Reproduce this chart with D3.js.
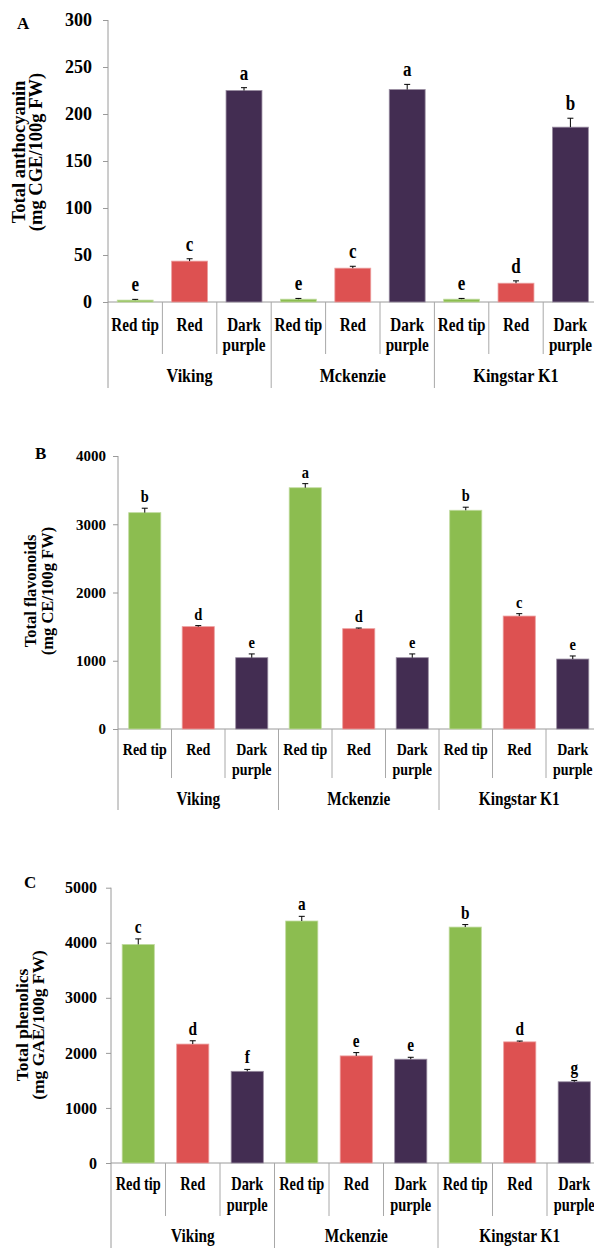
<!DOCTYPE html>
<html>
<head>
<meta charset="utf-8">
<script src="https://cdn.jsdelivr.net/npm/d3@7/dist/d3.min.js"></script>
<style>
html,body{margin:0;padding:0;background:#fff;}
svg text{font-family:"Liberation Serif","Times New Roman",serif;font-weight:bold;fill:#000;}
</style>
</head>
<body>
<svg id="chart" width="594" height="1248"></svg>
<script>
// ---- data ----
const cultivars = ["Viking", "Mckenzie", "Kingstar K1"];
const stages = ["Red tip", "Red", "Dark purple"];
const stageColors = ["#8cbd50", "#dd5151", "#432d52"];

const anthocyanin = [2, 43.5, 225, 3, 36, 226, 3, 20, 186];
const anthocyaninErr = [0.8, 2.5, 3, 0.8, 2, 5.5, 0.8, 2.5, 9.5];
const anthocyaninLetters = ["e", "c", "a", "e", "c", "a", "e", "d", "b"];
const anthocyaninTicks = [0, 50, 100, 150, 200, 250, 300];

const flavonoids = [3170, 1500, 1045, 3535, 1470, 1045, 3205, 1655, 1025];
const flavonoidsErr = [65, 15, 55, 60, 10, 55, 45, 35, 45];
const flavonoidsLetters = ["b", "d", "e", "a", "d", "e", "b", "c", "e"];
const flavonoidsTicks = [0, 1000, 2000, 3000, 4000];

const phenolics = [3970, 2160, 1665, 4395, 1945, 1885, 4285, 2200, 1475];
const phenolicsErr = [100, 60, 35, 85, 60, 35, 45, 15, 25];
const phenolicsLetters = ["c", "d", "f", "a", "e", "e", "b", "d", "g"];
const phenolicsTicks = [0, 1000, 2000, 3000, 4000, 5000];

const FONT = '"Liberation Serif","Times New Roman",serif';
const svg = d3.select("#chart");

function lighten(c, k) { return d3.interpolateRgb(c, "#ffffff")(k); }

function condensedText(g, x, y, str, size, sx, anchor) {
  return g.append("text")
    .attr("transform", `translate(${x},${y}) scale(${sx},1)`)
    .attr("text-anchor", anchor || "middle")
    .attr("font-family", FONT).attr("font-weight", "bold")
    .style("font-size", size + "px")
    .text(str);
}

function panel(cfg) {
  const g = svg.append("g");
  const keys = [];
  cultivars.forEach(c => stages.forEach(s => keys.push(c + "|" + s)));
  const rows = cfg.values.map((v, i) => ({
    key: keys[i], cultivar: cultivars[Math.floor(i / 3)], stage: stages[i % 3],
    si: i % 3, v: v, e: cfg.err[i], letter: cfg.letters[i]
  }));

  const x = d3.scaleBand().domain(keys).range([cfg.x0, cfg.x1]).paddingInner(0).paddingOuter(0);
  const bw = x.bandwidth() * cfg.barFrac;
  const y = d3.scaleLinear().domain([0, d3.max(cfg.ticks)]).range([cfg.y0, cfg.yTop]);

  // y axis
  const yAxis = d3.axisLeft(y).tickValues(cfg.ticks).tickFormat(d3.format("d")).tickSize(5).tickPadding(cfg.tickPad);
  const ya = g.append("g").attr("transform", `translate(${cfg.x0},0)`).call(yAxis);
  ya.select(".domain").remove();
  ya.selectAll(".tick line").attr("stroke", "#9a9a9a");
  ya.selectAll(".tick text").style("font-size", cfg.tickFont + "px")
    .attr("font-family", FONT).attr("font-weight", "bold")
    .style("font-family", FONT).style("font-weight", "bold").attr("fill", "#000");

  // vertical axis line from top tick down to bottom of category area
  g.append("line").attr("x1", cfg.x0).attr("x2", cfg.x0)
    .attr("y1", y(d3.max(cfg.ticks))).attr("y2", cfg.groupBottom)
    .attr("stroke", "#9a9a9a").attr("stroke-width", 1);
  // horizontal baseline
  g.append("line").attr("x1", cfg.x0).attr("x2", 594)
    .attr("y1", cfg.y0).attr("y2", cfg.y0)
    .attr("stroke", "#9a9a9a").attr("stroke-width", 1);

  // separators
  keys.forEach((k, i) => {
    if (i === 0) return;
    const xx = x(k);
    const isGroup = i % 3 === 0;
    g.append("line").attr("x1", xx).attr("x2", xx)
      .attr("y1", cfg.y0).attr("y2", isGroup ? cfg.groupBottom : cfg.subBottom)
      .attr("stroke", "#a8a8a8").attr("stroke-width", 1);
  });

  // bars
  g.selectAll("rect.bar").data(rows).enter().append("rect")
    .attr("x", d => x(d.key) + (x.bandwidth() - bw) / 2)
    .attr("width", bw)
    .attr("y", d => y(d.v))
    .attr("height", d => y(0) - y(d.v))
    .attr("fill", d => stageColors[d.si])
    .attr("stroke", d => lighten(stageColors[d.si], 0.45))
    .attr("stroke-width", 0.8);

  // error bars
  const cap = 3;
  rows.forEach(d => {
    const cx = x(d.key) + x.bandwidth() / 2;
    g.append("line").attr("x1", cx).attr("x2", cx).attr("y1", y(d.v)).attr("y2", y(d.v + d.e))
      .attr("stroke", "#000").attr("stroke-width", 1);
    g.append("line").attr("x1", cx - cap).attr("x2", cx + cap).attr("y1", y(d.v + d.e)).attr("y2", y(d.v + d.e))
      .attr("stroke", "#000").attr("stroke-width", 1);
    condensedText(g, cx, y(d.v + d.e) - cfg.letterGap, d.letter, cfg.letterFont, cfg.letterSx);
  });

  // stage labels
  rows.forEach(d => {
    const cx = x(d.key) + x.bandwidth() / 2;
    if (d.stage === "Dark purple") {
      condensedText(g, cx, cfg.subY1, "Dark", cfg.subFont, cfg.subSx);
      condensedText(g, cx, cfg.subY2, "purple", cfg.subFont, cfg.subSx);
    } else {
      condensedText(g, cx, cfg.subY1, d.stage, cfg.subFont, cfg.subSx);
    }
  });

  // cultivar labels
  cultivars.forEach(c => {
    const cx = x(c + "|Red") + x.bandwidth() / 2;
    condensedText(g, cx, cfg.groupY, c, cfg.groupFont, cfg.groupSx);
  });

  // y title
  cfg.title.forEach((t, i) => {
    g.append("text")
      .attr("transform", `translate(${cfg.titleX[i]},${cfg.titleY}) rotate(-90)`)
      .attr("text-anchor", "middle")
      .attr("font-family", FONT).attr("font-weight", "bold")
      .style("font-size", cfg.titleFont + "px")
      .text(t);
  });

  // panel letter
  g.append("text").attr("x", cfg.panelX).attr("y", cfg.panelY)
    .attr("font-family", FONT).attr("font-weight", "bold")
    .style("font-size", cfg.panelFont + "px").text(cfg.panel);
}

panel({
  panel: "A", panelX: 17, panelY: 29, panelFont: 17,
  values: anthocyanin, err: anthocyaninErr, letters: anthocyaninLetters, ticks: anthocyaninTicks,
  x0: 108, x1: 597.6, y0: 302, yTop: 20, barFrac: 0.66,
  tickFont: 18, tickPad: 11,
  letterGap: 8, letterFont: 20, letterSx: 0.85,
  subY1: 331, subY2: 351, subFont: 19, subSx: 0.8, subBottom: 354,
  groupY: 382, groupFont: 19, groupSx: 0.85, groupBottom: 388,
  title: ["Total anthocyanin", "(mg CGE/100g FW)"], titleX: [25, 42], titleY: 152, titleFont: 18.5
});

panel({
  panel: "B", panelX: 35, panelY: 459, panelFont: 17,
  values: flavonoids, err: flavonoidsErr, letters: flavonoidsLetters, ticks: flavonoidsTicks,
  x0: 118, x1: 599.5, y0: 729, yTop: 456, barFrac: 0.6,
  tickFont: 15, tickPad: 7,
  letterGap: 6, letterFont: 17, letterSx: 0.85,
  subY1: 755, subY2: 775, subFont: 17.5, subSx: 0.8, subBottom: 778,
  groupY: 805, groupFont: 18, groupSx: 0.85, groupBottom: 810,
  title: ["Total flavonoids", "(mg CE/100g FW)"], titleX: [36, 53], titleY: 591, titleFont: 16.5
});

panel({
  panel: "C", panelX: 24, panelY: 888, panelFont: 17,
  values: phenolics, err: phenolicsErr, letters: phenolicsLetters, ticks: phenolicsTicks,
  x0: 111, x1: 601.5, y0: 1163, yTop: 887.7, barFrac: 0.59,
  tickFont: 16, tickPad: 9,
  letterGap: 6, letterFont: 18, letterSx: 0.85,
  subY1: 1190, subY2: 1211, subFont: 18, subSx: 0.8, subBottom: 1216,
  groupY: 1242, groupFont: 18, groupSx: 0.85, groupBottom: 1248,
  title: ["Total phenolics", "(mg GAE/100g FW)"], titleX: [28, 44], titleY: 1025, titleFont: 17.5
});
</script>
</body>
</html>
